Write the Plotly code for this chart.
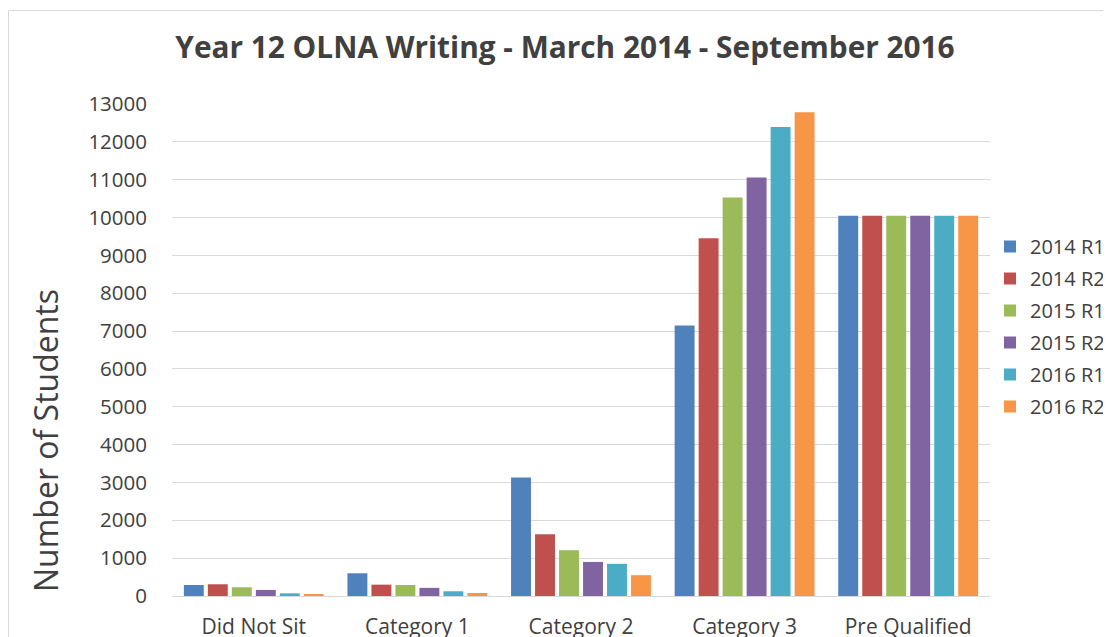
import plotly.graph_objects as go

categories = ["Did Not Sit", "Category 1", "Category 2", "Category 3", "Pre Qualified"]
series_names = ["2014 R1", "2014 R2", "2015 R1", "2015 R2", "2016 R1", "2016 R2"]
s2014_r1 = [290, 600, 3130, 7150, 10050]
s2014_r2 = [310, 300, 1630, 9450, 10050]
s2015_r1 = [230, 290, 1210, 10530, 10050]
s2015_r2 = [160, 215, 900, 11060, 10050]
s2016_r1 = [70, 125, 850, 12390, 10050]
s2016_r2 = [30, 80, 550, 12780, 10050]
series_values = [s2014_r1, s2014_r2, s2015_r1, s2015_r2, s2016_r1, s2016_r2]
colors = ["#4F81BD", "#C0504D", "#9BBB59", "#8064A2", "#4BACC6", "#F79646"]
y_ticks = list(range(0, 13001, 1000))

FONT = "Open Sans"
OFF = 8  # page body margin offset
W, H = 1111 - OFF, 637 - OFF
# plot area in reference (screen) pixels
PX0, PX1, PY0, PY1 = 172, 990, 104, 596
L, T = PX0 - OFF, PY0 - OFF
R, B = W - (PX1 - OFF), H - (PY1 - OFF)
PW, PH = PX1 - PX0, PY1 - PY0


def px(x):
    return (x - PX0) / PW


def py(y):
    return (PY1 - y) / PH


fig = go.Figure()
for i, (name, vals) in enumerate(zip(series_names, series_values)):
    fig.add_trace(go.Bar(
        x=categories, y=vals, name=name, legendgroup=name,
        marker=dict(color=colors[i], line=dict(width=0)),
    ))

fig.update_layout(
    width=W, height=H,
    paper_bgcolor="white", plot_bgcolor="white",
    margin=dict(l=L, r=R, t=T, b=B, autoexpand=False),
    barmode="group", bargap=0.12, bargroupgap=0.17,
    font=dict(family=FONT, color="#404040"),
    title=dict(text="<b>Year 12 OLNA Writing - March 2014 - September 2016</b>",
               x=(565 - OFF) / W, xanchor="center", y=1 - (48 - OFF) / H, yanchor="middle",
               font=dict(family=FONT, size=29.8, color="#404040")),
    legend=dict(x=px(990), xanchor="left", y=py(227), yanchor="top",
                font=dict(family=FONT, size=20, color="#404040"),
                tracegroupgap=3, itemwidth=30, bgcolor="rgba(0,0,0,0)"),
    showlegend=True,
)
fig.update_xaxes(
    showgrid=False, showline=False, zeroline=False, automargin=False,
    tickfont=dict(family=FONT, size=21, color="#404040"),
    ticklabelstandoff=16,
)
fig.update_yaxes(
    range=[0, 13000], tickvals=y_ticks, ticktext=[str(v) for v in y_ticks],
    showgrid=True, gridcolor="#D9D9D9", gridwidth=1,
    zeroline=True, zerolinecolor="#D9D9D9", zerolinewidth=1,
    showline=False, automargin=False,
    tickfont=dict(family=FONT, size=20.5, color="#404040"),
    ticklabelstandoff=24,
)
fig.add_annotation(
    text="Number of Students", textangle=-90,
    xref="paper", yref="paper", x=px(45), y=py(441),
    xanchor="center", yanchor="middle", showarrow=False,
    font=dict(family=FONT, size=32, color="#404040"),
)
fig.add_shape(type="rect", xref="paper", yref="paper",
              x0=px(8.5), x1=1.5, y0=-0.5, y1=py(10.5),
              line=dict(color="#D9D9D9", width=1), fillcolor="rgba(0,0,0,0)",
              layer="below")

fig.write_html("out.html")
